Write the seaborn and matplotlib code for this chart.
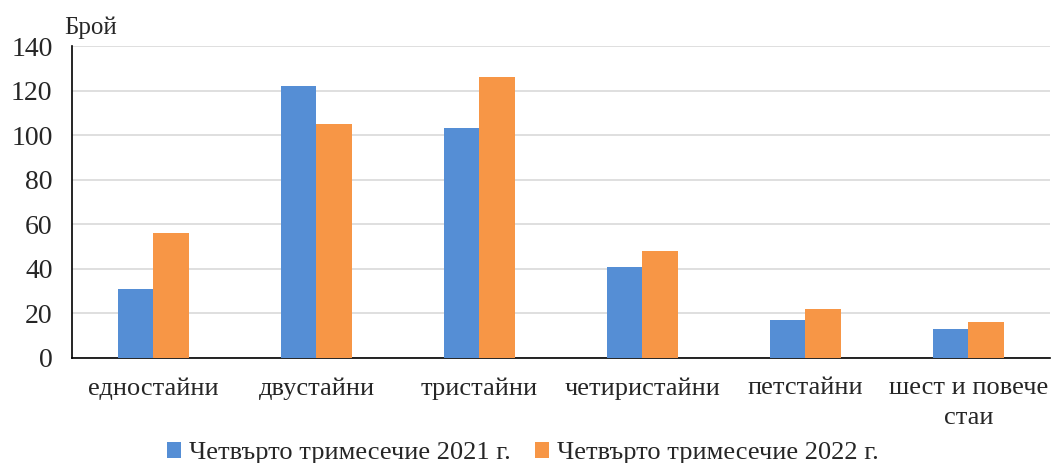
import numpy as np
import pandas as pd
import matplotlib
matplotlib.use("Agg")
import matplotlib.pyplot as plt
import seaborn as sns

# Данни
categories = ["едностайни", "двустайни", "тристайни", "четиристайни", "петстайни", "шест и повече\nстаи"]
series_names = ["Четвърто тримесечие 2021 г.", "Четвърто тримесечие 2022 г."]
values_2021 = [31, 122, 103, 41, 17, 13]
values_2022 = [56, 105, 126, 48, 22, 16]
y_ticks = [0, 20, 40, 60, 80, 100, 120, 140]

df = pd.DataFrame({
    "cat": categories * 2,
    "series": [series_names[0]] * len(categories) + [series_names[1]] * len(categories),
    "value": values_2021 + values_2022,
})

sns.set_style("white")
plt.rcParams["font.family"] = ["Liberation Serif", "DejaVu Serif"]

fig = plt.figure(figsize=(10.52, 4.63), dpi=100)
ax = fig.add_axes([0.0684, 0.2268, 0.9296, 0.6738])

sns.barplot(data=df, x="cat", y="value", hue="series",
            palette=["#558ED5", "#F79646"], width=0.44,
            saturation=1, linewidth=0, ax=ax, zorder=3)

ax.set_ylim(0, 140)
ax.set_xlim(-0.5, len(categories) - 0.5)
ax.set_yticks(y_ticks)
ax.tick_params(axis="y", labelsize=20, length=0, pad=14)
ax.tick_params(axis="x", labelsize=19, length=0, pad=14)
for lbl in ax.get_xticklabels():
    lbl.set_linespacing(1.45)
ax.grid(axis="y", color="#D9D9D9", linewidth=1.2, zorder=0)
ax.set_axisbelow(True)
ax.set_xlabel("")
ax.set_ylabel("")

for s in ["top", "right"]:
    ax.spines[s].set_visible(False)
ax.spines["left"].set_color("black")
ax.spines["bottom"].set_color("black")
ax.spines["left"].set_linewidth(1.2)
ax.spines["bottom"].set_linewidth(1.2)

fig.text(0.0865, 0.94, "Брой", fontsize=18, ha="center", va="center")

handles, labels = ax.get_legend_handles_labels()
ax.legend(handles, labels, loc="center", bbox_to_anchor=(0.497, 0.022),
          bbox_transform=fig.transFigure, ncol=2, frameon=False,
          fontsize=19, handlelength=0.55, handleheight=0.55,
          handletextpad=0.3, columnspacing=0.9)

fig.savefig("out.png", dpi=100)
